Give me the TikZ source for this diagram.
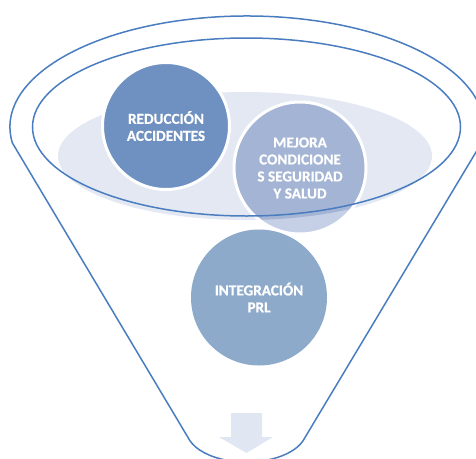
\documentclass[tikz,border=0pt]{standalone}
\usepackage{fontspec}
\setmainfont{Carlito}[BoldFeatures={FakeBold=0.6}]
\definecolor{lineblue}{HTML}{4A7DBF}
\definecolor{darkc}{HTML}{6F91C1}
\definecolor{midc}{HTML}{A3B4D4}
\definecolor{midlight}{HTML}{C5D0E6}
\definecolor{intc}{HTML}{8EAACB}
\definecolor{pale}{HTML}{E3E8F3}
\definecolor{arrowc}{HTML}{E0E6F2}
\begin{document}
\begin{tikzpicture}[x=1pt,y=-1pt,
  funnelline/.style={draw=lineblue,line width=1.5pt},
  ball/.style={circle,inner sep=0pt,align=center,text=white,
    font=\fontsize{15.2}{17}\selectfont\bfseries},
  ring/.style={draw=white,line width=3pt}]
\useasboundingbox (0,0) rectangle (476,458);
\clip (0,0) rectangle (476,458);
% pale background ellipse
\fill[pale] (245,156) ellipse [x radius=187, y radius=64];
% circles
\node[ball,fill=darkc,ring,minimum size=127pt] (red) at (166,126) {REDUCCIÓN\\ACCIDENTES};
\fill[midlight] (300,168) circle [radius=66];
\begin{scope}
  \clip (245,156) ellipse [x radius=187, y radius=64];
  \fill[midc] (300,168) circle [radius=66];
\end{scope}
\node[ball,ring,minimum size=132pt] (mej) at (300,168) {MEJORA\\CONDICIONE\\S SEGURIDAD\\Y SALUD};
\node[ball,fill=intc,minimum size=136pt] (int) at (259,297.5) {INTEGRACIÓN\\PRL};
% arrow
\fill[arrowc] (231,413) -- (262,413) -- (262,437) -- (273,437) -- (246.5,453)
  -- (219,437) -- (231,437) -- cycle;
% inner ellipse
\draw[funnelline] (246.5,127) ellipse [x radius=214, y radius=89];
% funnel outline
\draw[funnelline] (190,440.8) -- (12.4,143)
  arc[start angle=171.7, end angle=368.3, x radius=237, y radius=111]
  -- (303,440.8)
  arc[start angle=19.7, end angle=160.3, x radius=60, y radius=32] -- cycle;
\end{tikzpicture}
\end{document}
